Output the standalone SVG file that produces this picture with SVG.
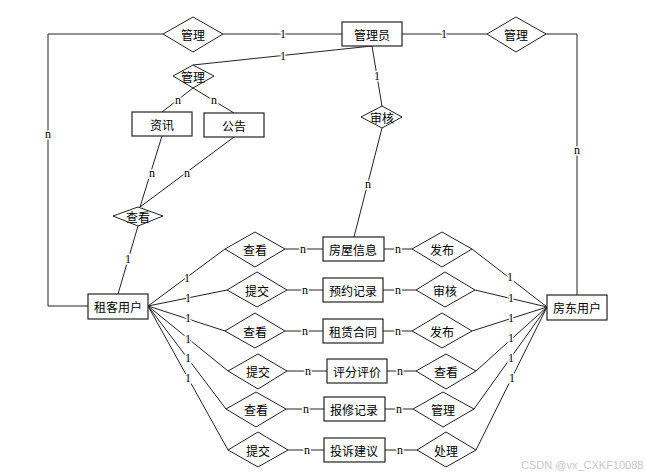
<svg xmlns="http://www.w3.org/2000/svg" width="645" height="476" viewBox="0 0 645 476">
<style>
.e{fill:#fff;stroke:#222;stroke-width:1.2}
.r{fill:#fff;stroke:#222;stroke-width:1}
.t{font-family:"Noto Sans CJK SC","Noto Sans",sans-serif;font-size:12px;fill:#000;text-anchor:middle;dominant-baseline:central}
.c line,.c polyline{stroke:#222;stroke-width:1;fill:none}
.l{font-family:"Liberation Serif",serif;font-size:12px;fill:#000;text-anchor:middle;dominant-baseline:central;stroke:#fff;stroke-width:3;paint-order:stroke}
.w{font-family:"Liberation Sans",sans-serif;font-size:11px;fill:#c8c8c8}
</style>
<rect width="645" height="476" fill="#fff"/>
<g class="c" id="connectors">
<polyline points="163,34 48,34 48,306 88,306"/>
<line x1="223" y1="34" x2="342" y2="34"/>
<line x1="402" y1="34" x2="487" y2="34"/>
<polyline points="546,34 577,34 577,295"/>
<line x1="193" y1="65" x2="372" y2="46"/>
<line x1="372" y1="46" x2="382" y2="106"/>
<line x1="382" y1="128" x2="354" y2="237"/>
<line x1="193" y1="88" x2="162" y2="112"/>
<line x1="193" y1="88" x2="234" y2="113"/>
<line x1="162" y1="136" x2="140" y2="207"/>
<line x1="234" y1="137" x2="140" y2="207"/>
<line x1="138" y1="226" x2="118" y2="294"/>
<line x1="148" y1="306" x2="225" y2="249"/>
<line x1="148" y1="306" x2="227" y2="290"/>
<line x1="148" y1="306" x2="225" y2="331"/>
<line x1="148" y1="306" x2="228" y2="371"/>
<line x1="148" y1="306" x2="226" y2="409"/>
<line x1="148" y1="306" x2="228" y2="450"/>
<line x1="285" y1="249" x2="323" y2="249"/>
<line x1="287" y1="290" x2="323" y2="290"/>
<line x1="285" y1="331" x2="323" y2="331"/>
<line x1="287" y1="371" x2="327" y2="371"/>
<line x1="286" y1="409" x2="324" y2="409"/>
<line x1="288" y1="450" x2="324" y2="450"/>
<line x1="384" y1="249" x2="412" y2="249"/>
<line x1="383" y1="290" x2="416" y2="290"/>
<line x1="383" y1="331" x2="412" y2="331"/>
<line x1="387" y1="371" x2="416" y2="371"/>
<line x1="385" y1="409" x2="413" y2="409"/>
<line x1="385" y1="450" x2="417" y2="450"/>
<line x1="472" y1="249" x2="547" y2="307"/>
<line x1="475" y1="290" x2="547" y2="307"/>
<line x1="472" y1="331" x2="547" y2="307"/>
<line x1="476" y1="371" x2="547" y2="307"/>
<line x1="474" y1="409" x2="547" y2="307"/>
<line x1="476" y1="450" x2="547" y2="307"/>
<text class="l" x="48" y="134">n</text>
<text class="l" x="283" y="34">1</text>
<text class="l" x="444" y="34">1</text>
<text class="l" x="577" y="150">n</text>
<text class="l" x="283" y="56">1</text>
<text class="l" x="377" y="76">1</text>
<text class="l" x="368" y="184">n</text>
<text class="l" x="178" y="100">n</text>
<text class="l" x="214" y="100">n</text>
<text class="l" x="152" y="173">n</text>
<text class="l" x="187" y="173">n</text>
<text class="l" x="128" y="259">1</text>
<text class="l" x="187" y="278">1</text>
<text class="l" x="188" y="298">1</text>
<text class="l" x="188" y="318">1</text>
<text class="l" x="188" y="339">1</text>
<text class="l" x="188" y="358">1</text>
<text class="l" x="188" y="378">1</text>
<text class="l" x="303" y="249">n</text>
<text class="l" x="305" y="290">n</text>
<text class="l" x="305" y="331">n</text>
<text class="l" x="308" y="371">n</text>
<text class="l" x="306" y="409">n</text>
<text class="l" x="307" y="450">n</text>
<text class="l" x="398" y="249">n</text>
<text class="l" x="398" y="290">n</text>
<text class="l" x="398" y="331">n</text>
<text class="l" x="400" y="371">n</text>
<text class="l" x="399" y="409">n</text>
<text class="l" x="400" y="450">n</text>
<text class="l" x="510" y="277">1</text>
<text class="l" x="511" y="298">1</text>
<text class="l" x="511" y="318">1</text>
<text class="l" x="511" y="338">1</text>
<text class="l" x="511" y="358">1</text>
<text class="l" x="512" y="378">1</text>
</g>
<g id="admin"><rect class="e" x="342" y="22" width="60" height="24"/><text class="t" x="372" y="34">管理员</text></g>
<g id="tenant"><rect class="e" x="88" y="294" width="60" height="25"/><text class="t" x="118" y="306">租客用户</text></g>
<g id="landlord"><rect class="e" x="547" y="295" width="60" height="25"/><text class="t" x="577" y="307">房东用户</text></g>
<g id="news"><rect class="e" x="132" y="112" width="60" height="24"/><text class="t" x="162" y="124">资讯</text></g>
<g id="notice"><rect class="e" x="204" y="113" width="60" height="24"/><text class="t" x="234" y="125">公告</text></g>
<g id="house"><rect class="e" x="323" y="237" width="61" height="24"/><text class="t" x="353" y="249">房屋信息</text></g>
<g id="booking"><rect class="e" x="323" y="278" width="60" height="24"/><text class="t" x="353" y="290">预约记录</text></g>
<g id="contract"><rect class="e" x="323" y="319" width="60" height="24"/><text class="t" x="353" y="331">租赁合同</text></g>
<g id="review"><rect class="e" x="327" y="359" width="60" height="24"/><text class="t" x="357" y="371">评分评价</text></g>
<g id="repair"><rect class="e" x="324" y="397" width="61" height="24"/><text class="t" x="354" y="409">报修记录</text></g>
<g id="complaint"><rect class="e" x="324" y="438" width="61" height="24"/><text class="t" x="354" y="450">投诉建议</text></g>
<g id="r_manage_tl"><polygon class="r" points="163,34 193,17 223,34 193,52"/><text class="t" x="193" y="34">管理</text></g>
<g id="r_manage_tr"><polygon class="r" points="487,34 516,17 546,34 516,52"/><text class="t" x="516" y="34">管理</text></g>
<g id="r_manage_small"><polygon class="r" points="173,76 193,65 214,76 193,88"/><text class="t" x="193" y="76">管理</text></g>
<g id="r_audit_top"><polygon class="r" points="361,117 382,106 402,117 382,128"/><text class="t" x="382" y="117">审核</text></g>
<g id="r_view_small"><polygon class="r" points="113,216 138,207 163,216 138,226"/><text class="t" x="138" y="216">查看</text></g>
<g id="r_l1"><polygon class="r" points="225,249 255,232 285,249 255,267"/><text class="t" x="255" y="249">查看</text></g>
<g id="r_l2"><polygon class="r" points="227,290 257,272 287,290 257,307"/><text class="t" x="257" y="290">提交</text></g>
<g id="r_l3"><polygon class="r" points="225,331 255,313 285,331 255,348"/><text class="t" x="255" y="331">查看</text></g>
<g id="r_l4"><polygon class="r" points="228,371 258,354 287,371 258,389"/><text class="t" x="258" y="371">提交</text></g>
<g id="r_l5"><polygon class="r" points="226,409 256,392 286,409 256,427"/><text class="t" x="256" y="409">查看</text></g>
<g id="r_l6"><polygon class="r" points="228,450 258,432 288,450 258,467"/><text class="t" x="258" y="450">提交</text></g>
<g id="r_r1"><polygon class="r" points="412,249 442,232 472,249 442,267"/><text class="t" x="442" y="249">发布</text></g>
<g id="r_r2"><polygon class="r" points="416,290 445,272 475,290 445,307"/><text class="t" x="445" y="290">审核</text></g>
<g id="r_r3"><polygon class="r" points="412,331 442,313 472,331 442,348"/><text class="t" x="442" y="331">发布</text></g>
<g id="r_r4"><polygon class="r" points="416,371 446,354 476,371 446,389"/><text class="t" x="446" y="371">查看</text></g>
<g id="r_r5"><polygon class="r" points="413,409 443,392 474,409 443,427"/><text class="t" x="443" y="409">管理</text></g>
<g id="r_r6"><polygon class="r" points="417,450 446,432 476,450 446,467"/><text class="t" x="446" y="450">处理</text></g>
<text class="w" x="521" y="469">CSDN @vx_CXKF10088</text>
</svg>
